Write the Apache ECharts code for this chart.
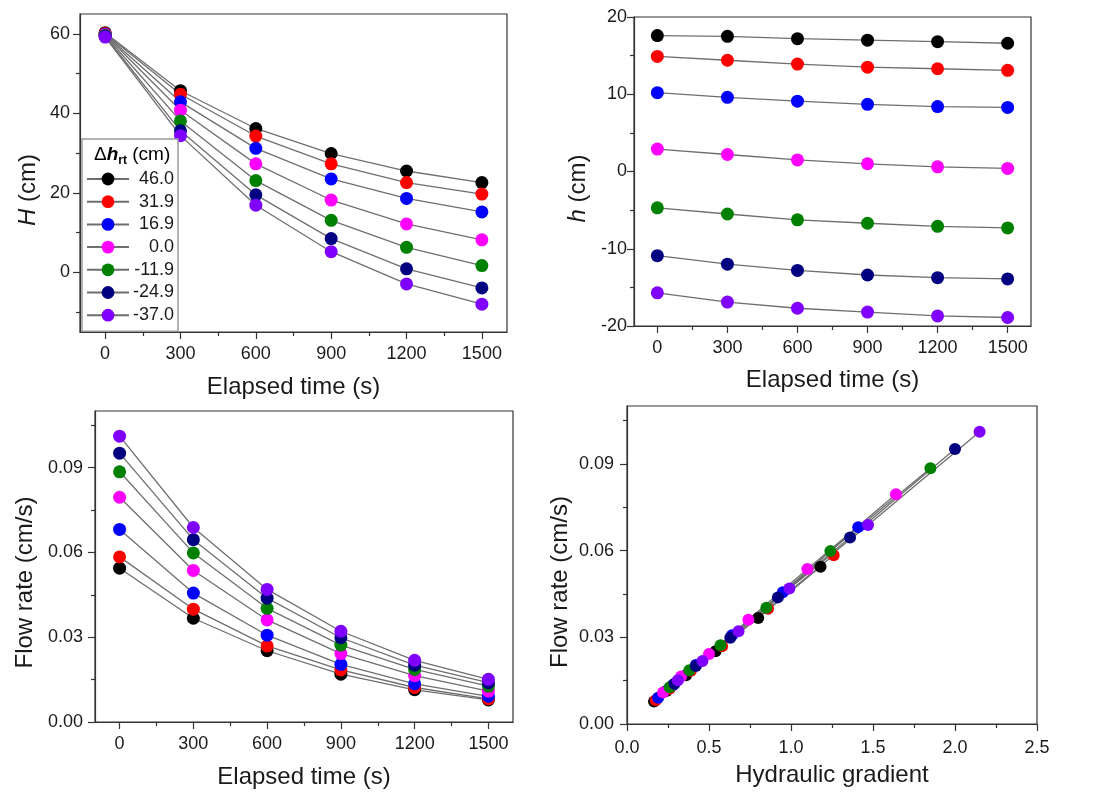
<!DOCTYPE html>
<html>
<head>
<meta charset="utf-8">
<script src="https://cdn.jsdelivr.net/npm/echarts@6/dist/echarts.min.js"></script>
<style>
html,body{margin:0;padding:0;background:#fff;}
#c{width:1094px;height:792px;}
</style>
</head>
<body>
<div id="c"></div>
<script>
// ---------- DATA ----------
const times = [0, 300, 600, 900, 1200, 1500];
const dhLabels = ['46.0', '31.9', '16.9', '0.0', '-11.9', '-24.9', '-37.0'];
const colors = ['#000000', '#ff0000', '#0000ff', '#ff00ff', '#008000', '#000080', '#8000ff'];

// Total head H (cm) vs time
const H_46 = [60.3, 45.7, 36.2, 29.9, 25.5, 22.6];
const H_31 = [60.1, 44.8, 34.3, 27.3, 22.6, 19.7];
const H_16 = [59.9, 42.9, 31.2, 23.5, 18.6, 15.2];
const H_0 = [59.8, 40.8, 27.3, 18.2, 12.2, 8.2];
const H_m11 = [59.6, 38.1, 23.1, 13.1, 6.3, 1.7];
const H_m24 = [59.4, 35.6, 19.5, 8.5, 0.9, -3.9];
const H_m37 = [59.2, 34.4, 16.9, 5.2, -2.9, -8.0];

// Head h (cm) vs time
const h_46 = [17.6, 17.5, 17.2, 17.0, 16.8, 16.6];
const h_31 = [14.9, 14.4, 13.9, 13.5, 13.3, 13.1];
const h_16 = [10.2, 9.6, 9.1, 8.7, 8.4, 8.3];
const h_0 = [2.9, 2.2, 1.5, 1.0, 0.6, 0.4];
const h_m11 = [-4.7, -5.5, -6.25, -6.7, -7.1, -7.3];
const h_m24 = [-10.9, -12.0, -12.8, -13.4, -13.75, -13.9];
const h_m37 = [-15.7, -16.9, -17.7, -18.2, -18.7, -18.9];

// Flow rate (cm/s) vs time
const q_46 = [0.0544, 0.0367, 0.0252, 0.0169, 0.0114, 0.0078];
const q_31 = [0.0584, 0.0399, 0.0269, 0.0184, 0.0122, 0.0082];
const q_16 = [0.0681, 0.0456, 0.0307, 0.0204, 0.0135, 0.0091];
const q_0 = [0.0795, 0.0536, 0.0361, 0.0242, 0.0164, 0.0109];
const q_m11 = [0.0885, 0.0598, 0.0402, 0.0272, 0.0186, 0.0127];
const q_m24 = [0.0951, 0.0645, 0.0438, 0.0298, 0.0201, 0.0139];
const q_m37 = [0.1011, 0.0688, 0.0469, 0.0321, 0.0218, 0.0151];

// Hydraulic gradient at each time
const i_46 = [1.18, 0.80, 0.54, 0.36, 0.24, 0.165];
const i_31 = [1.26, 0.86, 0.58, 0.39, 0.26, 0.175];
const i_16 = [1.41, 0.95, 0.64, 0.42, 0.28, 0.19];
const i_0 = [1.64, 1.10, 0.74, 0.50, 0.33, 0.22];
const i_m11 = [1.85, 1.24, 0.85, 0.57, 0.38, 0.26];
const i_m24 = [2.00, 1.36, 0.92, 0.63, 0.42, 0.29];
const i_m37 = [2.15, 1.47, 0.99, 0.68, 0.46, 0.31];

// Tick values
const timeTicks = [0, 300, 600, 900, 1200, 1500];
const timeMinor = [150, 450, 750, 1050, 1350];
const HTicks = [0, 20, 40, 60];
const HMinor = [-10, 10, 30, 50];
const hTicks = [-20, -10, 0, 10, 20];
const hMinor = [-15, -5, 5, 15];
const qTicks = [0, 0.03, 0.06, 0.09];
const qMinor = [0.015, 0.045, 0.075, 0.105];
const iTicks = [0, 0.5, 1.0, 1.5, 2.0, 2.5];
const iMinor = [0.25, 0.75, 1.25, 1.75, 2.25];

const Hs = [H_46, H_31, H_16, H_0, H_m11, H_m24, H_m37];
const hs = [h_46, h_31, h_16, h_0, h_m11, h_m24, h_m37];
const qs = [q_46, q_31, q_16, q_0, q_m11, q_m24, q_m37];
const is = [i_46, i_31, i_16, i_0, i_m11, i_m24, i_m37];

// ---------- STYLE ----------
const FONT = "'Liberation Sans', Arial, sans-serif";
const TXT = '#1a1a1a';
const AX = '#333333';
const LINE = '#6e6e6e';

const grids = [
  {left: 80, top: 14, width: 427, height: 318},
  {left: 634, top: 17, width: 397, height: 309},
  {left: 95, top: 411, width: 418, height: 311},
  {left: 627, top: 406, width: 410, height: 318}
].map(g => Object.assign(g, {show: true, borderColor: AX, borderWidth: 1.2, backgroundColor: 'transparent'}));

const xAxes = [], yAxes = [];
function addAxis(list, dim, gi, min, max, majors, minors, fmt, margin, name, nameGap, namePad, rich) {
  const main = {
    type: 'value', gridIndex: gi, min: min, max: max,
    position: dim === 'x' ? 'bottom' : 'left',
    axisLine: {show: true, onZero: false, lineStyle: {color: AX, width: 1.2}},
    axisTick: {show: true, inside: false, length: 7, customValues: majors, lineStyle: {color: AX, width: 1.2}},
    minorTick: {show: false},
    axisLabel: {show: true, customValues: majors, formatter: fmt, fontSize: 18, color: TXT, fontFamily: FONT, margin: margin},
    splitLine: {show: false},
    name: name, nameLocation: 'middle', nameGap: nameGap,
    nameTextStyle: {fontSize: 24, color: TXT, fontFamily: FONT, padding: namePad, rich: rich}
  };
  const minor = {
    type: 'value', gridIndex: gi, min: min, max: max,
    position: dim === 'x' ? 'bottom' : 'left', offset: 0,
    axisLine: {show: false, onZero: false},
    axisTick: {show: true, inside: false, length: 4, customValues: minors, lineStyle: {color: AX, width: 1.2}},
    axisLabel: {show: false},
    splitLine: {show: false}
  };
  list.push(main, minor);
  return list.length - 2;
}

const fInt = v => String(Math.round(v));
const f2 = v => v.toFixed(2);
const f1 = v => v.toFixed(1);
const richI = {i: {fontStyle: 'italic', fontSize: 24, color: TXT, fontFamily: FONT}, n: {fontSize: 24, color: TXT, fontFamily: FONT}};

const x0 = addAxis(xAxes, 'x', 0, -100, 1600, timeTicks, timeMinor, fInt, 13, 'Elapsed time (s)', 43, 0);
const y0 = addAxis(yAxes, 'y', 0, -15, 65, HTicks, HMinor, fInt, 10, '{i|H}{n| (cm)}', 40, [0, 34, 0, 0], richI);
const x1 = addAxis(xAxes, 'x', 1, -100, 1600, timeTicks, timeMinor, fInt, 13, 'Elapsed time (s)', 42, 0);
const y1 = addAxis(yAxes, 'y', 1, -20, 20, hTicks, hMinor, fInt, 7, '{i|h}{n| (cm)}', 44, [0, 34, 0, 0], richI);
const x2 = addAxis(xAxes, 'x', 2, -100, 1600, timeTicks, timeMinor, fInt, 13, 'Elapsed time (s)', 43, 0);
const y2 = addAxis(yAxes, 'y', 2, 0, 0.11, qTicks, qMinor, f2, 12, 'Flow rate (cm/s)', 58, [0, 32, 0, 0]);
const x3 = addAxis(xAxes, 'x', 3, 0, 2.5, iTicks, iMinor, f1, 15, 'Hydraulic gradient', 39, 0);
const y3 = addAxis(yAxes, 'y', 3, 0, 0.11, qTicks, qMinor, f2, 13, 'Flow rate (cm/s)', 55, [0, 34, 0, 0]);

const series = [];
function addSeries(xi, yi, xs, ys, size) {
  for (let k = 0; k < dhLabels.length; k++) {
    const xv = Array.isArray(xs[0]) ? xs[k] : xs;
    series.push({
      type: 'line', name: dhLabels[k], xAxisIndex: xi, yAxisIndex: yi,
      data: ys[k].map((v, j) => [xv[j], v]),
      symbol: 'circle', symbolSize: size, showSymbol: true,
      lineStyle: {color: LINE, width: 1.3},
      itemStyle: {color: colors[k]},
      emphasis: {disabled: true},
      z: 2
    });
  }
}
addSeries(x0, y0, times, Hs, 13);
addSeries(x1, y1, times, hs, 13);
addSeries(x2, y2, times, qs, 13);
addSeries(x3, y3, is, qs, 12);

const option = {
  animation: false,
  backgroundColor: '#ffffff',
  textStyle: {fontFamily: FONT},
  grid: grids,
  xAxis: xAxes,
  yAxis: yAxes,
  series: series,
  legend: {
    data: dhLabels, orient: 'vertical', left: 82, top: 139,
    padding: [31, 4, 7, 4], itemGap: 4.7, itemWidth: 42, itemHeight: 16, itemTextGap: 4,
    borderColor: '#9a9a9a', borderWidth: 1.5, backgroundColor: '#ffffff',
    selectedMode: false,
    formatter: n => '{a|' + n + '}',
    textStyle: {rich: {a: {width: 40, align: 'right', fontSize: 18, lineHeight: 20, color: TXT, fontFamily: FONT}}}
  },
  graphic: [{
    type: 'text', z: 100, left: 94, top: 145,
    style: {
      text: '{d|Δ}{h|h}{s|rt}{c| (cm)}',
      rich: {
        d: {fontSize: 19, color: TXT, fontFamily: FONT, lineHeight: 24, verticalAlign: 'middle'},
        h: {fontSize: 19, fontWeight: 'bold', fontStyle: 'italic', color: TXT, fontFamily: FONT, lineHeight: 24},
        s: {fontSize: 12, fontWeight: 'bold', color: TXT, fontFamily: FONT, lineHeight: 24, verticalAlign: 'bottom', padding: [8, 0, 0, 0]},
        c: {fontSize: 19, color: TXT, fontFamily: FONT, lineHeight: 24}
      }
    }
  }]
};

const chart = echarts.init(document.getElementById('c'), null, {renderer: 'canvas'});
chart.setOption(option);
</script>
</body>
</html>
